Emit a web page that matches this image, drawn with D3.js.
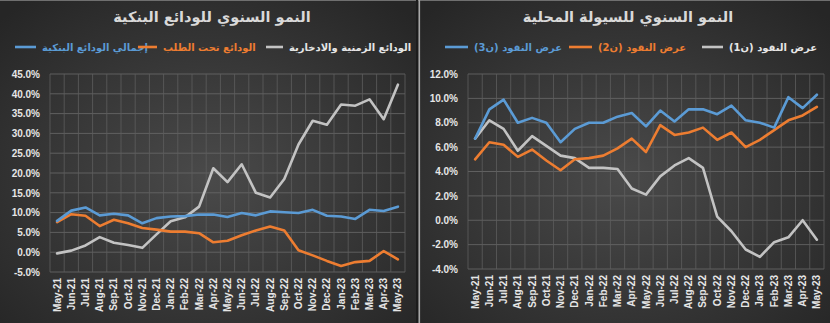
<!DOCTYPE html>
<html>
<head>
<meta charset="utf-8">
<script src="https://cdn.jsdelivr.net/npm/d3@7"></script>
<style>
  html, body { margin: 0; padding: 0; background: #2b2b2b; }
  svg { display: block; }
</style>
</head>
<body>
<svg id="chart" width="830" height="323"></svg>
<script>
// Monthly categories shared by both panels
const months = ["May-21","Jun-21","Jul-21","Aug-21","Sep-21","Oct-21","Nov-21","Dec-21",
  "Jan-22","Feb-22","Mar-22","Apr-22","May-22","Jun-22","Jul-22","Aug-22","Sep-22","Oct-22",
  "Nov-22","Dec-22","Jan-23","Feb-23","Mar-23","Apr-23","May-23"];

// Bank deposits, annual growth (%)
const totalDeposits = [7.9,10.5,11.3,9.3,9.7,9.3,7.3,8.6,9.0,9.1,9.5,9.5,8.9,9.9,9.3,10.3,10.1,9.9,10.7,9.2,9.0,8.4,10.7,10.4,11.5];
const demandDeposits = [7.6,9.6,9.2,6.6,8.2,7.3,6.1,5.7,5.2,5.2,4.8,2.5,2.9,4.3,5.5,6.5,5.5,0.5,-0.8,-2.2,-3.5,-2.5,-2.2,0.3,-1.8];
const timeSavingsDeposits = [-0.3,0.4,1.7,3.8,2.4,1.8,1.1,4.5,7.8,8.8,11.5,21.2,17.7,22.2,15.0,13.8,18.5,27.2,33.2,32.2,37.3,37.0,38.6,33.6,42.3];

// Money supply, annual growth (%)
const m3 = [6.7,9.1,9.9,8.0,8.4,8.0,6.4,7.5,8.0,8.0,8.5,8.8,7.7,9.0,8.1,9.1,9.1,8.7,9.4,8.2,8.0,7.6,10.1,9.2,10.3];
const m2 = [5.0,6.4,6.2,5.2,5.8,4.9,4.1,5.0,5.1,5.3,5.9,6.7,5.6,7.8,7.0,7.2,7.6,6.6,7.2,6.0,6.6,7.4,8.2,8.6,9.3];
const m1 = [6.7,8.2,7.5,5.7,6.9,6.1,5.3,5.1,4.3,4.3,4.2,2.6,2.1,3.6,4.5,5.1,4.3,0.3,-0.9,-2.4,-3.0,-1.8,-1.4,0.0,-1.6];

const leftTicks = [-5,0,5,10,15,20,25,30,35,40,45];
const rightTicks = [-4,-2,0,2,4,6,8,10,12];

const depositLabels = ["إجمالي الودائع البنكية","الودائع تحت الطلب","الودائع الزمنية والادخارية"];
const moneyLabels = ["عرض النقود (ن3)","عرض النقود (ن2)","عرض النقود (ن1)"];

const BLUE = "#5b9bd5", ORANGE = "#ed7d31", GRAY = "#c3c3c3";

const svg = d3.select("#chart");
const defs = svg.append("defs");
const grad = defs.append("radialGradient").attr("id","bg")
  .attr("cx","50%").attr("cy","55%").attr("r","70%");
grad.append("stop").attr("offset","0%").attr("stop-color","#4a4a4a");
grad.append("stop").attr("offset","100%").attr("stop-color","#262626");

const AR_FONT = "'DejaVu Sans', sans-serif";
const NUM_FONT = "'Liberation Sans', Arial, sans-serif";

function panel(opts) {
  const g = svg.append("g");
  g.append("rect").attr("x", opts.px).attr("y", 0).attr("width", opts.pw).attr("height", 323)
    .attr("fill", "url(#bg)");

  // title
  g.append("text").attr("x", opts.px + opts.pw / 2 + 4).attr("y", 22)
    .attr("text-anchor","middle").attr("direction","rtl")
    .attr("font-family", AR_FONT).attr("font-weight","bold").attr("font-size", 14.5)
    .attr("fill","#d9d9d9").text(opts.title);

  const x = d3.scaleBand().domain(months).range([opts.x0, opts.x1]);
  const y = d3.scaleLinear().domain([opts.ticks[0], opts.ticks[opts.ticks.length-1]])
    .range([opts.y1, opts.y0]);

  // horizontal grid
  g.append("g").selectAll("line").data(opts.ticks).join("line")
    .attr("x1", opts.x0).attr("x2", opts.x1)
    .attr("y1", d => y(d)).attr("y2", d => y(d))
    .attr("stroke","#6a6a6a").attr("stroke-width",1).attr("opacity",0.8);
  // vertical grid at category boundaries
  const bounds = months.map(m => x(m)).concat([opts.x1]);
  g.append("g").selectAll("line").data(bounds).join("line")
    .attr("x1", d => d).attr("x2", d => d)
    .attr("y1", opts.y0).attr("y2", opts.y1)
    .attr("stroke","#5e5e5e").attr("stroke-width",1).attr("opacity",0.8);

  // y axis labels
  const yAxis = d3.axisLeft(y).tickValues(opts.ticks).tickSize(0).tickPadding(0)
    .tickFormat(d => d.toFixed(1) + "%");
  const ya = g.append("g").attr("transform", `translate(${opts.labelX},0)`).call(yAxis);
  ya.select(".domain").remove();
  ya.selectAll("text").attr("font-family", NUM_FONT).attr("font-weight","bold")
    .attr("font-size", 10).attr("fill","#e6e6e6");

  // x axis labels (rotated)
  const xAxis = d3.axisBottom(x).tickSize(0).tickPadding(0);
  const xa = g.append("g").attr("transform", `translate(0,${opts.y1})`).call(xAxis);
  xa.select(".domain").remove();
  xa.selectAll("text")
    .attr("font-family", NUM_FONT).attr("font-weight","bold").attr("font-size", 10)
    .attr("fill","#e6e6e6")
    .attr("text-anchor","end").attr("dy","0.35em")
    .attr("transform", "translate(0,6) rotate(-90)")
    .attr("x", 0).attr("y", 0);

  // series lines
  const line = d3.line().x((d, i) => x(months[i]) + x.bandwidth() / 2).y(d => y(d));
  opts.series.forEach(s => {
    g.append("path").datum(s.values).attr("d", line)
      .attr("fill","none").attr("stroke", s.color).attr("stroke-width", 2.6)
      .attr("stroke-linejoin","round").attr("stroke-linecap","round");
  });

  // legend
  opts.legend.forEach(l => {
    g.append("line").attr("x1", l.lx).attr("x2", l.lx + l.lw).attr("y1", 47).attr("y2", 47)
      .attr("stroke", l.color).attr("stroke-width", 2.6);
    g.append("text").attr("x", l.lx + l.lw + 6).attr("y", 51)
      .attr("text-anchor","end").attr("direction","rtl")
      .attr("font-family", AR_FONT).attr("font-weight","bold").attr("font-size", 10)
      .attr("fill", l.textColor).text(l.text);
  });
}

panel({
  px: 0, pw: 416,
  title: "النمو السنوي للودائع البنكية",
  x0: 50, x1: 405, y0: 74, y1: 272, labelX: 40,
  ticks: leftTicks,
  series: [
    { values: timeSavingsDeposits, color: GRAY },
    { values: demandDeposits, color: ORANGE },
    { values: totalDeposits, color: BLUE }
  ],
  legend: [
    { lx: 15, lw: 21, color: BLUE, textColor: BLUE, text: depositLabels[0] },
    { lx: 138, lw: 19, color: ORANGE, textColor: ORANGE, text: depositLabels[1] },
    { lx: 266, lw: 17, color: GRAY, textColor: "#e6e6e6", text: depositLabels[2] }
  ]
});

panel({
  px: 418, pw: 412,
  title: "النمو السنوي للسيولة المحلية",
  x0: 468, x1: 824, y0: 74, y1: 269, labelX: 458,
  ticks: rightTicks,
  series: [
    { values: m1, color: GRAY },
    { values: m2, color: ORANGE },
    { values: m3, color: BLUE }
  ],
  legend: [
    { lx: 445, lw: 23, color: BLUE, textColor: BLUE, text: moneyLabels[0] },
    { lx: 569, lw: 23, color: ORANGE, textColor: ORANGE, text: moneyLabels[1] },
    { lx: 702, lw: 21, color: GRAY, textColor: "#e6e6e6", text: moneyLabels[2] }
  ]
});

// panel frames
svg.append("line").attr("x1",0).attr("x2",830).attr("y1",0.5).attr("y2",0.5)
  .attr("stroke","#6f6f6f").attr("stroke-width",1);
svg.append("rect").attr("x",416).attr("y",0).attr("width",2).attr("height",323).attr("fill","#1c1c1c");
svg.append("rect").attr("x",418.5).attr("y",0).attr("width",1.6).attr("height",323).attr("fill","#a8a8a8");
</script>
</body>
</html>
